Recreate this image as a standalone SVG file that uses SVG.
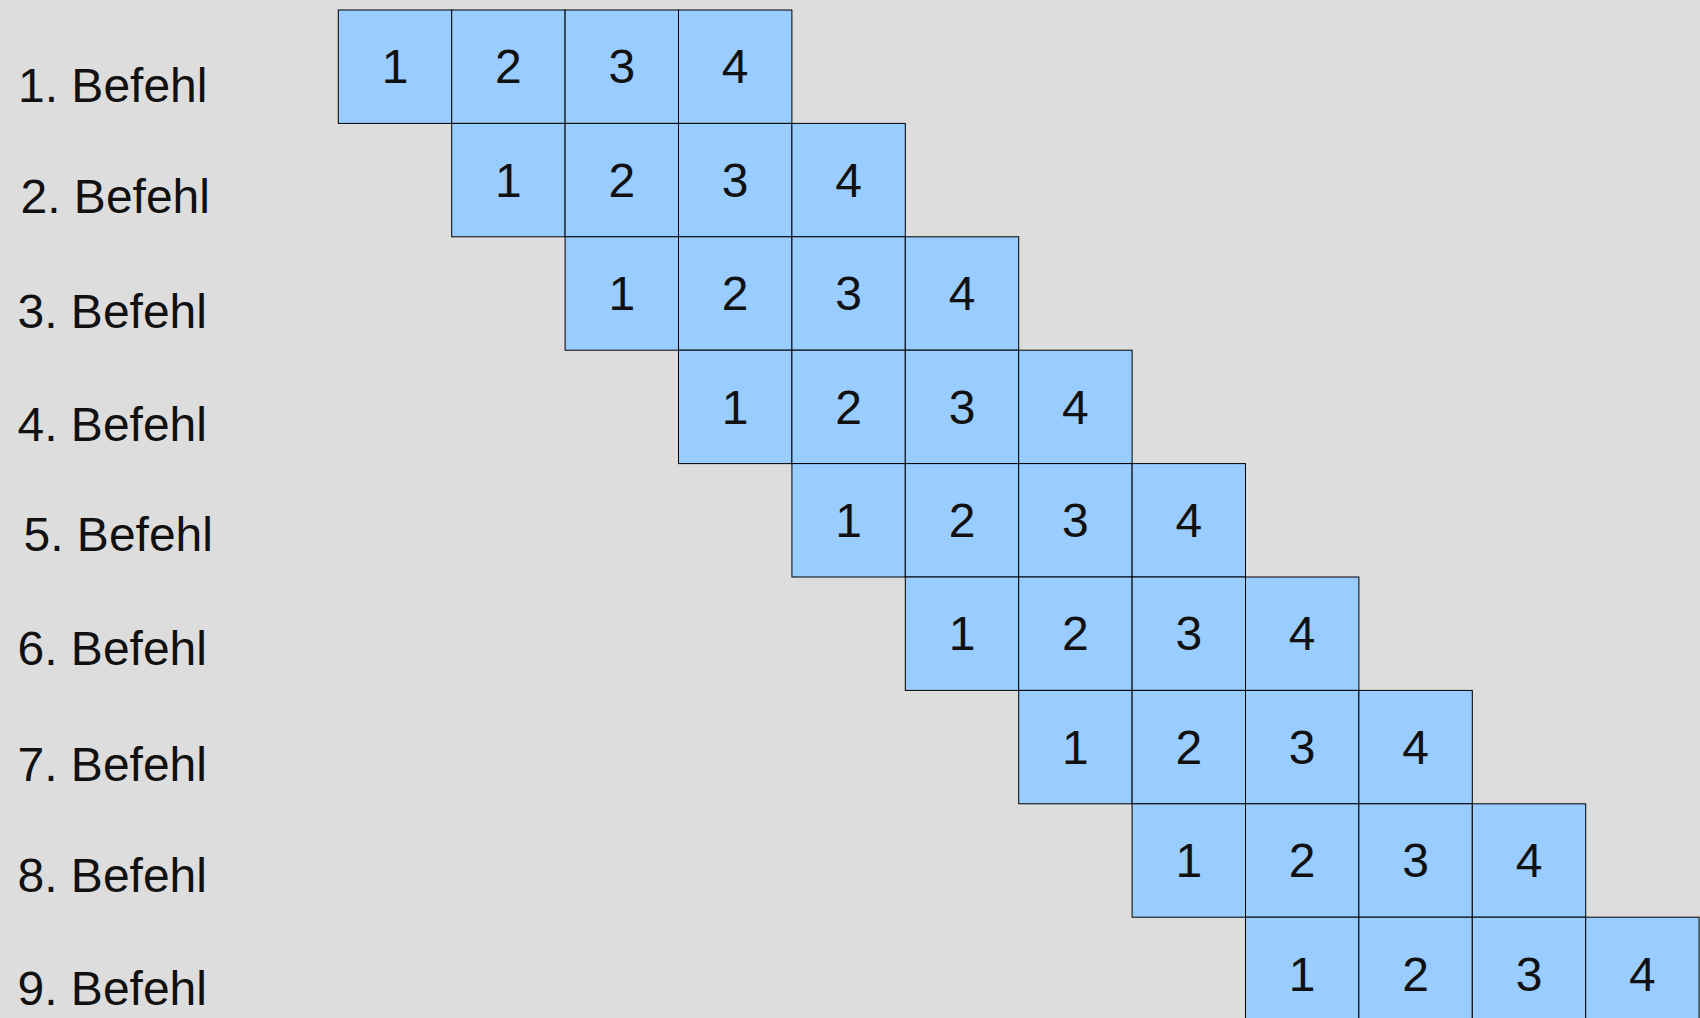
<svg xmlns="http://www.w3.org/2000/svg" width="1700" height="1018" viewBox="0 0 1700 1018">
<style>
.bg{fill:#dddddd}
.c{fill:#99ccff;stroke:#000;stroke-width:1}
.n{font-family:"Liberation Sans",Arial,sans-serif;font-size:48px;fill:#111;text-anchor:middle}
.l{font-family:"Liberation Sans",Arial,sans-serif;font-size:48px;fill:#111}
</style>
<rect class="bg" x="0" y="0" width="1700" height="1018"/>
<g id="labels">
<text class="l" x="18" y="101.7">1. Befehl</text>
<text class="l" x="20.5" y="213.3">2. Befehl</text>
<text class="l" x="17.5" y="328.3">3. Befehl</text>
<text class="l" x="17.5" y="441">4. Befehl</text>
<text class="l" x="23.5" y="550.7">5. Befehl</text>
<text class="l" x="17.5" y="665">6. Befehl</text>
<text class="l" x="17.5" y="781">7. Befehl</text>
<text class="l" x="17.5" y="891.7">8. Befehl</text>
<text class="l" x="17.5" y="1005">9. Befehl</text>
</g>
<g id="row1">
<rect class="c" x="338.3" y="10" width="113.4" height="113.4"/><rect class="c" x="451.7" y="10" width="113.4" height="113.4"/><rect class="c" x="565.1" y="10" width="113.4" height="113.4"/><rect class="c" x="678.5" y="10" width="113.4" height="113.4"/>
<text class="n" x="395" y="83.4">1</text><text class="n" x="508.4" y="83.4">2</text><text class="n" x="621.8" y="83.4">3</text><text class="n" x="735.2" y="83.4">4</text>
</g>
<g id="row2">
<rect class="c" x="451.7" y="123.4" width="113.4" height="113.4"/><rect class="c" x="565.1" y="123.4" width="113.4" height="113.4"/><rect class="c" x="678.5" y="123.4" width="113.4" height="113.4"/><rect class="c" x="791.9" y="123.4" width="113.4" height="113.4"/>
<text class="n" x="508.4" y="196.8">1</text><text class="n" x="621.8" y="196.8">2</text><text class="n" x="735.2" y="196.8">3</text><text class="n" x="848.6" y="196.8">4</text>
</g>
<g id="row3">
<rect class="c" x="565.1" y="236.8" width="113.4" height="113.4"/><rect class="c" x="678.5" y="236.8" width="113.4" height="113.4"/><rect class="c" x="791.9" y="236.8" width="113.4" height="113.4"/><rect class="c" x="905.3" y="236.8" width="113.4" height="113.4"/>
<text class="n" x="621.8" y="310.2">1</text><text class="n" x="735.2" y="310.2">2</text><text class="n" x="848.6" y="310.2">3</text><text class="n" x="962" y="310.2">4</text>
</g>
<g id="row4">
<rect class="c" x="678.5" y="350.2" width="113.4" height="113.4"/><rect class="c" x="791.9" y="350.2" width="113.4" height="113.4"/><rect class="c" x="905.3" y="350.2" width="113.4" height="113.4"/><rect class="c" x="1018.7" y="350.2" width="113.4" height="113.4"/>
<text class="n" x="735.2" y="423.6">1</text><text class="n" x="848.6" y="423.6">2</text><text class="n" x="962" y="423.6">3</text><text class="n" x="1075.4" y="423.6">4</text>
</g>
<g id="row5">
<rect class="c" x="791.9" y="463.6" width="113.4" height="113.4"/><rect class="c" x="905.3" y="463.6" width="113.4" height="113.4"/><rect class="c" x="1018.7" y="463.6" width="113.4" height="113.4"/><rect class="c" x="1132.1" y="463.6" width="113.4" height="113.4"/>
<text class="n" x="848.6" y="537">1</text><text class="n" x="962" y="537">2</text><text class="n" x="1075.4" y="537">3</text><text class="n" x="1188.8" y="537">4</text>
</g>
<g id="row6">
<rect class="c" x="905.3" y="577" width="113.4" height="113.4"/><rect class="c" x="1018.7" y="577" width="113.4" height="113.4"/><rect class="c" x="1132.1" y="577" width="113.4" height="113.4"/><rect class="c" x="1245.5" y="577" width="113.4" height="113.4"/>
<text class="n" x="962" y="650.4">1</text><text class="n" x="1075.4" y="650.4">2</text><text class="n" x="1188.8" y="650.4">3</text><text class="n" x="1302.2" y="650.4">4</text>
</g>
<g id="row7">
<rect class="c" x="1018.7" y="690.4" width="113.4" height="113.4"/><rect class="c" x="1132.1" y="690.4" width="113.4" height="113.4"/><rect class="c" x="1245.5" y="690.4" width="113.4" height="113.4"/><rect class="c" x="1358.9" y="690.4" width="113.4" height="113.4"/>
<text class="n" x="1075.4" y="763.8">1</text><text class="n" x="1188.8" y="763.8">2</text><text class="n" x="1302.2" y="763.8">3</text><text class="n" x="1415.6" y="763.8">4</text>
</g>
<g id="row8">
<rect class="c" x="1132.1" y="803.8" width="113.4" height="113.4"/><rect class="c" x="1245.5" y="803.8" width="113.4" height="113.4"/><rect class="c" x="1358.9" y="803.8" width="113.4" height="113.4"/><rect class="c" x="1472.3" y="803.8" width="113.4" height="113.4"/>
<text class="n" x="1188.8" y="877.2">1</text><text class="n" x="1302.2" y="877.2">2</text><text class="n" x="1415.6" y="877.2">3</text><text class="n" x="1529" y="877.2">4</text>
</g>
<g id="row9">
<rect class="c" x="1245.5" y="917.2" width="113.4" height="113.4"/><rect class="c" x="1358.9" y="917.2" width="113.4" height="113.4"/><rect class="c" x="1472.3" y="917.2" width="113.4" height="113.4"/><rect class="c" x="1585.7" y="917.2" width="113.4" height="113.4"/>
<text class="n" x="1302.2" y="990.6">1</text><text class="n" x="1415.6" y="990.6">2</text><text class="n" x="1529" y="990.6">3</text><text class="n" x="1642.4" y="990.6">4</text>
</g>
<g id="connectors"></g>
</svg>
